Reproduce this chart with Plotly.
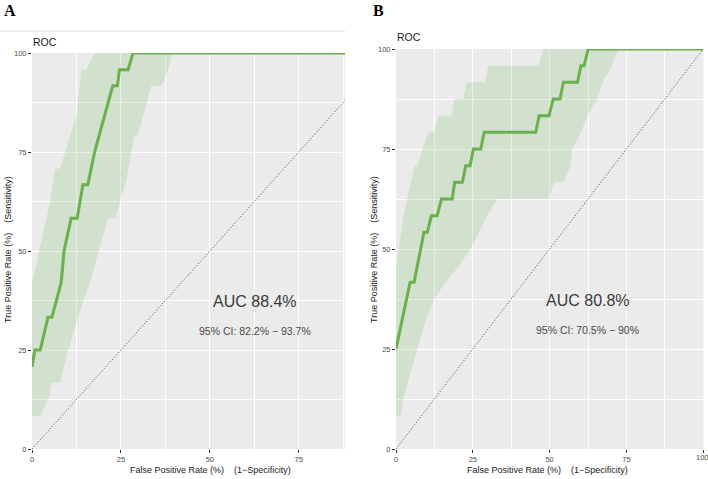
import plotly.graph_objects as go

# ---------------- data ----------------
# Panel A ROC curve (FPR %, TPR %)
fpr_a = [0, 0.8, 2.3, 4.5, 5.6, 8.2, 9.0, 11.0, 12.7, 14.3, 15.7, 17.6, 22.7, 24.0, 24.6, 27.0, 28.4, 100]
tpr_a = [20.8, 25, 25, 33.3, 33.3, 42.0, 50.0, 58.3, 58.3, 66.7, 66.7, 75.0, 91.7, 91.7, 95.8, 95.8, 100, 100]
# Panel A confidence band
ci_hi_fpr_a = [0, 5.0, 6.5, 7.9, 12.5, 13.9, 15.3, 17.6]
ci_hi_tpr_a = [42.0, 62.0, 70.8, 70.8, 84.3, 95.8, 95.8, 100]
ci_lo_fpr_a = [0, 2.2, 4.6, 5.5, 7.9, 10.2, 14.4, 16.2, 21.4, 23.4, 26.5, 28.8, 29.8, 33.5, 34.0, 36.4, 38.3, 39.4]
ci_lo_tpr_a = [8.3, 8.3, 12.5, 16.7, 16.7, 25.0, 37.5, 41.7, 58.3, 58.3, 68.0, 79.2, 79.2, 91.7, 91.7, 91.7, 95.8, 100]
auc_a = "AUC 88.4%"
ci_a = "95% CI: 82.2% \u2212 93.7%"

# Panel B ROC curve
fpr_b = [0, 3.5, 4.6, 5.9, 9.1, 10.2, 11.5, 13.4, 14.8, 18.3, 19.1, 21.6, 22.7, 24.1, 25.2, 27.6,
         28.7, 45.5, 46.6, 49.8, 51.2, 53.4, 54.5, 59.1, 60.2, 61.2, 62.6, 100]
tpr_b = [25, 37.5, 41.7, 41.7, 54.2, 54.2, 58.3, 58.3, 62.5, 62.5, 66.7, 66.7, 70.8, 70.8, 75, 75,
         79.2, 79.2, 83.3, 83.3, 87.5, 87.5, 91.7, 91.7, 95.8, 95.8, 100, 100]
ci_hi_fpr_b = [0, 2.5, 4.8, 6.0, 7.0, 8.6, 10.6, 12.4, 13.8, 18.1, 19.0, 21.9, 23.0, 29.0, 30.0, 46.4, 48.0]
ci_hi_tpr_b = [45.8, 58.3, 66.7, 70.8, 70.8, 75, 79.2, 79.2, 83.3, 83.3, 87.5, 87.5, 91.7, 91.7, 95.8, 95.8, 100]
ci_lo_fpr_b = [0, 1.5, 2.4, 6.9, 10.2, 12.4, 16.2, 20.5, 24.3, 29.7, 33.0, 49.8, 51.5, 54.5, 56.9, 57.4,
               60.2, 62.3, 65.5, 67.3, 70.3, 72.4]
ci_lo_tpr_b = [8.3, 8.3, 12.5, 25.0, 33.3, 37.5, 41.7, 45.8, 50.0, 58.3, 62.5, 62.5, 66.7, 66.7, 70.8, 75.0,
               79.2, 83.3, 87.5, 91.7, 95.8, 100]
auc_b = "AUC 80.8%"
ci_b = "95% CI: 70.5% \u2212 90%"

ticks = [0, 25, 50, 75, 100]
tick_text = ["0", "25", "50", "75", "100"]
diag = [0, 100]

# ---------------- figure ----------------
W, H = 708, 479
FONT = "Liberation Sans, Arial, sans-serif"
line_col = "#6AB04C"
band_col = "rgba(120,190,100,0.22)"

fig = go.Figure()

def add_panel(xa, ya, fpr, tpr, hi_f, hi_t, lo_f, lo_t):
    bx = list(hi_f) + list(reversed(lo_f))
    by = list(hi_t) + list(reversed(lo_t))
    fig.add_trace(go.Scatter(x=bx, y=by, mode="lines", fill="toself", fillcolor=band_col,
                             line=dict(width=0), hoverinfo="skip", showlegend=False,
                             xaxis=xa, yaxis=ya))
    fig.add_trace(go.Scatter(x=diag, y=diag, mode="lines",
                             line=dict(color="#444444", width=1, dash="1px,2px"),
                             showlegend=False, xaxis=xa, yaxis=ya))
    fig.add_trace(go.Scatter(x=fpr, y=tpr, mode="lines", line=dict(color=line_col, width=3),
                             showlegend=False, xaxis=xa, yaxis=ya))

add_panel("x", "y", fpr_a, tpr_a, ci_hi_fpr_a, ci_hi_tpr_a, ci_lo_fpr_a, ci_lo_tpr_a)
add_panel("x2", "y2", fpr_b, tpr_b, ci_hi_fpr_b, ci_hi_tpr_b, ci_lo_fpr_b, ci_lo_tpr_b)

def px_x(p):
    return p / W

def px_y(p):
    return 1 - p / H

axis_common = dict(
    tickmode="array", tickvals=ticks, ticktext=tick_text,
    ticks="outside", ticklen=3, tickwidth=1, tickcolor="#333333",
    tickfont=dict(family=FONT, size=7.5, color="#4D4D4D"),
    showgrid=True, gridcolor="white", gridwidth=1.1,
    minor=dict(tickvals=[12.5, 37.5, 62.5, 87.5], showgrid=True, gridcolor="white", gridwidth=0.5, ticks=""),
    zeroline=False, showline=False, fixedrange=True, automargin=False,
)

fig.update_layout(
    width=W, height=H,
    margin=dict(l=0, r=0, t=0, b=0, autoexpand=False),
    paper_bgcolor="white", plot_bgcolor="#EBEBEB",
    xaxis=dict(domain=[px_x(32), px_x(345)], range=[0, 88], anchor="y", **axis_common),
    yaxis=dict(domain=[px_y(449), px_y(53)], range=[0, 100], anchor="x", **axis_common),
    xaxis2=dict(domain=[px_x(396), px_x(703.5)], range=[0, 100.1], anchor="y2", **axis_common),
    yaxis2=dict(domain=[px_y(449), px_y(49)], range=[0, 100], anchor="x2", **axis_common),
)

ann = []
def paper_text(x, y, text, size, color="#1A1A1A", angle=0, family=FONT, xanchor="center"):
    ann.append(dict(x=px_x(x), y=px_y(y), xref="paper", yref="paper", text=text, showarrow=False,
                    font=dict(family=family, size=size, color=color), textangle=angle,
                    xanchor=xanchor, yanchor="middle"))

# panel labels
paper_text(2, 10, "<b>A</b>", 16, color="black", family="Liberation Serif, Times New Roman, serif", xanchor="left")
paper_text(371, 10, "<b>B</b>", 16, color="black", family="Liberation Serif, Times New Roman, serif", xanchor="left")
# ROC titles
paper_text(31, 42, "ROC", 10.5, xanchor="left")
paper_text(395, 37, "ROC", 10.5, xanchor="left")
# axis titles
xt = "False Positive Rate (%)    (1\u2212Specificity)"
yt = "True Positive Rate (%)    (Sensitivity)"
paper_text(210, 469.5, xt, 9, color="#1A1A1A")
paper_text(547, 469.5, xt, 9, color="#1A1A1A")
paper_text(8, 250, yt, 9, color="#1A1A1A", angle=-90)
paper_text(374, 250, yt, 9, color="#1A1A1A", angle=-90)
# last x tick label of panel B (sits on the page edge, hidden by plotly)
paper_text(702, 457, tick_text[-1], 7.5, color="#4D4D4D")

# AUC texts (data coords)
for xr, yr, x0, auc, ci in [("x", "y", 62.6, auc_a, ci_a), ("x2", "y2", 62.4, auc_b, ci_b)]:
    ann.append(dict(x=x0, y=37.2, xref=xr, yref=yr, text=auc, showarrow=False,
                    font=dict(family=FONT, size=16, color="#3A3A3A")))
    ann.append(dict(x=x0, y=29.8, xref=xr, yref=yr, text=ci, showarrow=False,
                    font=dict(family=FONT, size=10.5, color="#4A4A4A")))

fig.update_layout(annotations=ann)

# thin grey rule above panel A
fig.add_shape(type="line", xref="paper", yref="paper", x0=0, x1=px_x(345), y0=px_y(31), y1=px_y(31),
              line=dict(color="#DDDDDD", width=1))

fig.write_html("out.html",
               config={"displayModeBar": False},
               post_script="document.body.style.margin='0';document.body.style.padding='0';"
                           "document.documentElement.style.overflow='hidden';")
